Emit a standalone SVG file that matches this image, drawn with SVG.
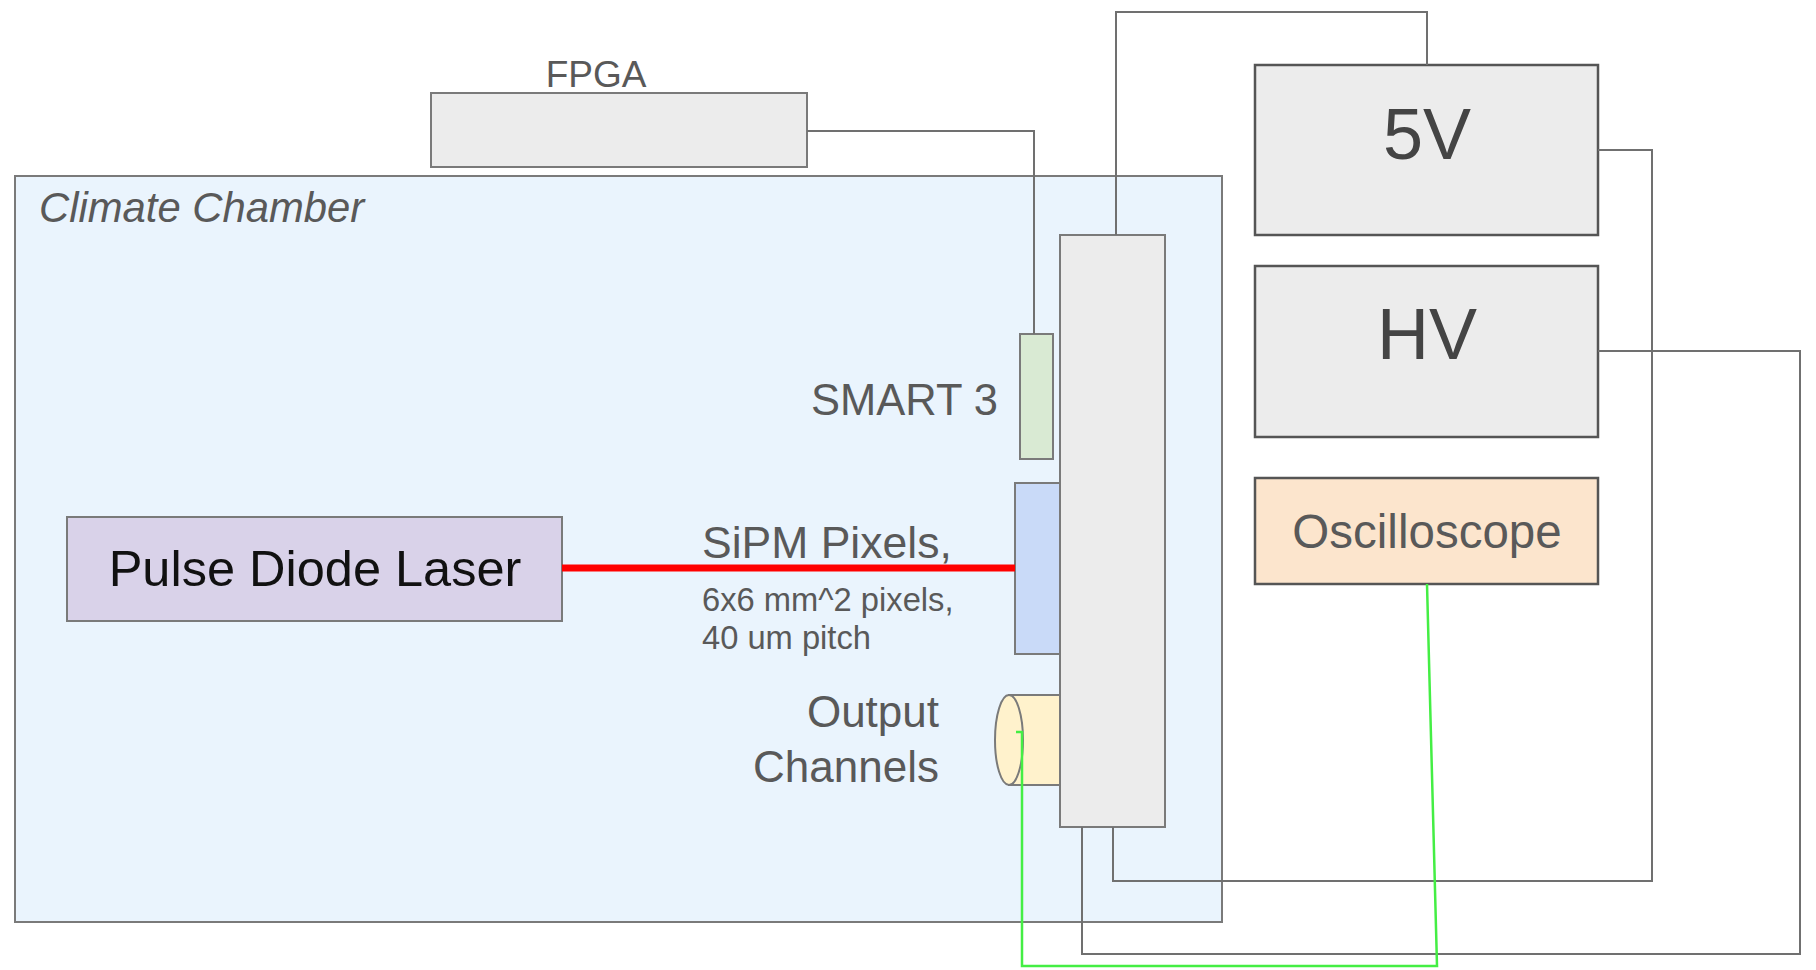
<svg xmlns="http://www.w3.org/2000/svg" width="1816" height="970" viewBox="0 0 1816 970">
<style>
text{font-family:"Liberation Sans",Arial,sans-serif;fill:#595959}
.box{stroke:#7a7a7a;stroke-width:2}
.dark{stroke:#555;stroke-width:2.5}
.wire{fill:none;stroke:#707070;stroke-width:2}
.green{fill:none;stroke:#44ee44;stroke-width:2.5}
</style>
<rect width="1816" height="970" fill="#ffffff"/>
<g id="chamber">
<rect x="15" y="176" width="1207" height="746" fill="#eaf4fd" class="box"/>
<text x="39" y="222" font-size="41.8" font-style="italic">Climate Chamber</text>
</g>
<g id="fpga">
<rect x="431" y="93" width="376" height="74" fill="#ececec" class="box"/>
<text x="596" y="87" font-size="37" text-anchor="middle">FPGA</text>
</g>
<g id="board">
<rect x="1060" y="235" width="105" height="592" fill="#ececec" class="box"/>
</g>
<g id="smart3">
<rect x="1020" y="334" width="33" height="125" fill="#d9ead3" class="box"/>
<text x="998" y="415" font-size="43.5" text-anchor="end">SMART 3</text>
</g>
<g id="sipm">
<rect x="1015" y="483" width="45" height="171" fill="#c9daf8" class="box"/>
<text x="702" y="558" font-size="44.5">SiPM Pixels,</text>
<text x="702" y="611" font-size="32.7">6x6 mm^2 pixels,</text>
<text x="702" y="649" font-size="32.7">40 um pitch</text>
</g>
<g id="output">
<path d="M1009,695 H1060 V785 H1009 Z" fill="#fff2cc" stroke="#7a7a7a" stroke-width="2"/>
<ellipse cx="1009" cy="740" rx="14" ry="45" fill="#fff2cc" stroke="#7a7a7a" stroke-width="2"/>
<text x="939" y="727" font-size="44" text-anchor="end">Output</text>
<text x="939" y="782" font-size="44" text-anchor="end">Channels</text>
</g>
<g id="laser">
<rect x="67" y="517" width="495" height="104" fill="#d9d2e9" class="box"/>
<text x="315" y="586" font-size="50.5" text-anchor="middle" style="fill:#111">Pulse Diode Laser</text>
</g>
<g id="v5">
<rect x="1255" y="65" width="343" height="170" fill="#ececec" class="dark"/>
<text x="1427" y="159" font-size="72" text-anchor="middle" style="fill:#444">5V</text>
</g>
<g id="hv">
<rect x="1255" y="266" width="343" height="171" fill="#ececec" class="dark"/>
<text x="1427" y="359" font-size="72" text-anchor="middle" style="fill:#444">HV</text>
</g>
<g id="oscilloscope">
<rect x="1255" y="478" width="343" height="106" fill="#fce5cd" class="dark"/>
<text x="1427" y="548" font-size="47.5" text-anchor="middle">Oscilloscope</text>
</g>
<g id="connectors">
<path class="wire" d="M807,131 H1034 V334"/>
<path class="wire" d="M1116,235 V12 H1427 V65"/>
<path class="wire" d="M1598,150 H1652 V881 H1113 V827"/>
<path class="wire" d="M1598,351 H1800 V954 H1082 V827"/>
<path d="M562,568 H1015" stroke="#ff0000" stroke-width="7" fill="none"/>
<path class="green" d="M1427,584 L1437,966 H1022 V732 H1016"/>
</g>
</svg>
